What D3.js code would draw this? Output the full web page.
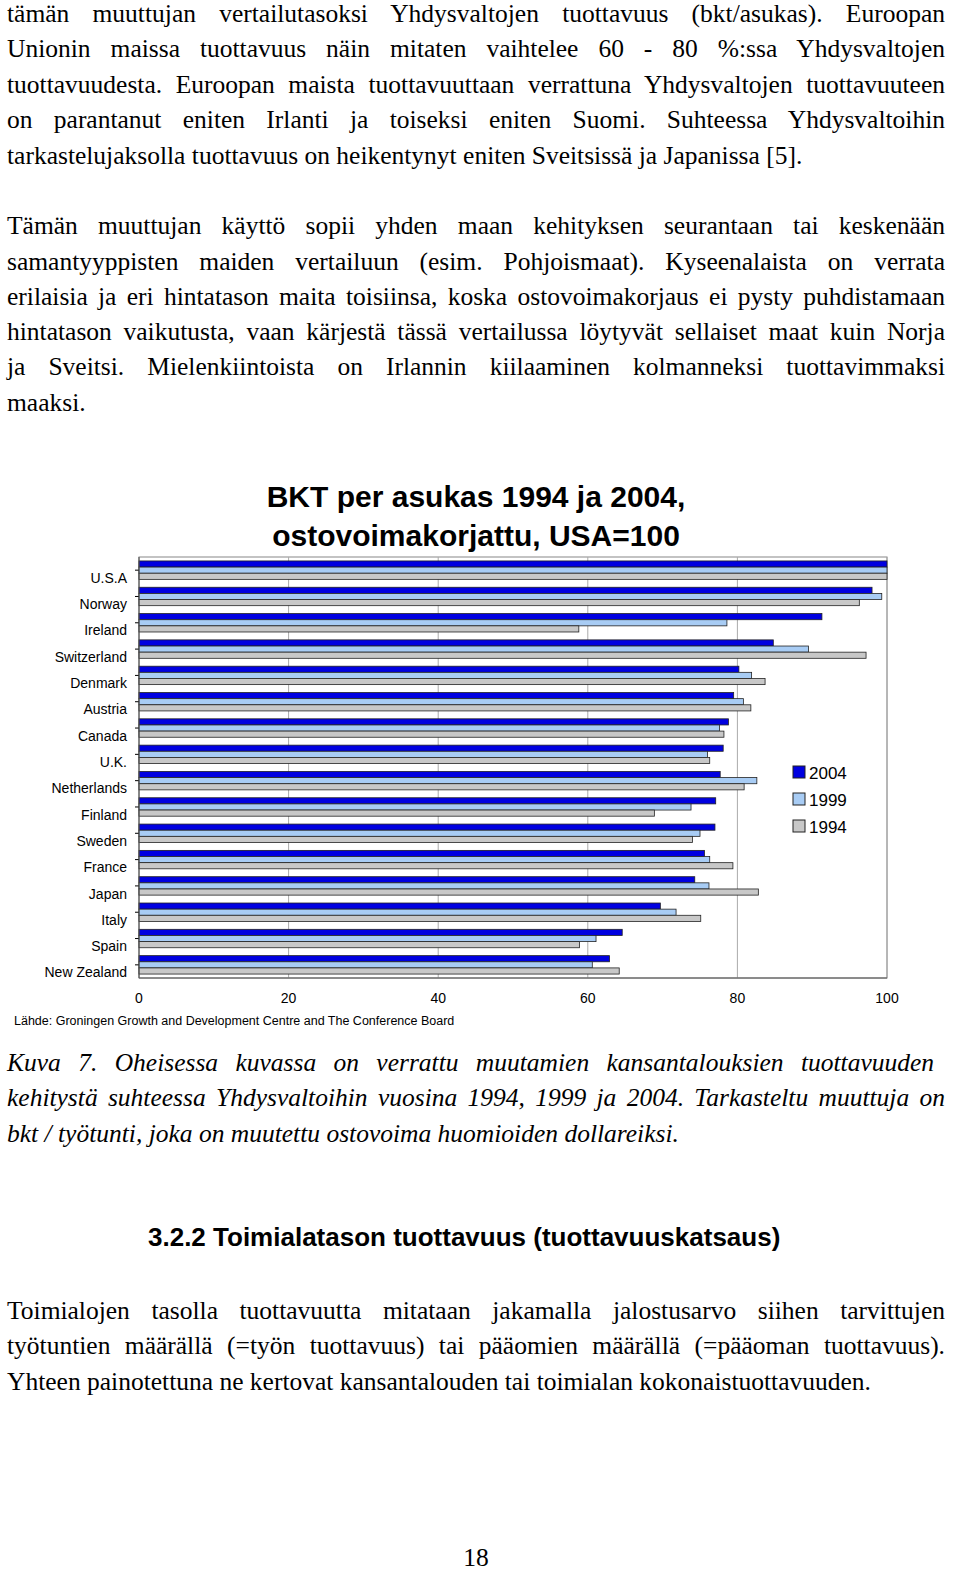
<!DOCTYPE html>
<html><head><meta charset="utf-8">
<script src="https://cdn.jsdelivr.net/npm/d3@7"></script>
<style>body{margin:0;background:#fff}</style></head>
<body><svg id="s" width="960" height="1589"></svg>
<script>
const categories=["U.S.A","Norway","Ireland","Switzerland","Denmark","Austria","Canada","U.K.","Netherlands","Finland","Sweden","France","Japan","Italy","Spain","New Zealand"];
const v2004=[100,98.0,91.3,84.8,80.2,79.5,78.8,78.1,77.7,77.1,77.0,75.6,74.3,69.7,64.6,62.9];
const v1999=[100,99.3,78.6,89.5,81.9,80.8,77.6,76.0,82.6,73.8,75.0,76.3,76.2,71.8,61.1,60.6];
const v1994=[100,96.3,58.8,97.2,83.7,81.8,78.2,76.3,80.9,68.9,74.0,79.4,82.8,75.1,58.9,64.2];
const seriesNames=["2004","1999","1994"];
const xTicks=[0,20,40,60,80,100];
const colors=["#0000e0","#a8ccf4","#c8c8c8"];

const svg=d3.select("#s");
const serif="'Liberation Serif','Times New Roman',serif", sans="'Liberation Sans',Arial,sans-serif";
function line(t,y,opt={}){
  const e=svg.append("text").attr("x",opt.x||7).attr("y",y+9).attr("font-family",opt.ff||serif)
   .attr("font-size",opt.fs||25.5).attr("font-style",opt.it?"italic":null).attr("font-weight",opt.bold?"bold":null).text(t);
  if(opt.j){
    const w=e.node().getComputedTextLength();
    const n=(t.match(/ /g)||[]).length;
    e.attr("word-spacing",Math.max(0,(938-w)/n));
  }
  if(opt.anchor) e.attr("text-anchor",opt.anchor);
}
[["tämän muuttujan vertailutasoksi Yhdysvaltojen tuottavuus (bkt/asukas). Euroopan",13,1],
 ["Unionin maissa tuottavuus näin mitaten vaihtelee 60 - 80 %:ssa Yhdysvaltojen",48,1],
 ["tuottavuudesta. Euroopan maista tuottavuuttaan verrattuna Yhdysvaltojen tuottavuuteen",84,1],
 ["on parantanut eniten Irlanti ja toiseksi eniten Suomi. Suhteessa Yhdysvaltoihin",119,1],
 ["tarkastelujaksolla tuottavuus on heikentynyt eniten Sveitsissä ja Japanissa [5].",155,0],
 ["Tämän muuttujan käyttö sopii yhden maan kehityksen seurantaan tai keskenään",225,1],
 ["samantyyppisten maiden vertailuun (esim. Pohjoismaat). Kyseenalaista on verrata",261,1],
 ["erilaisia ja eri hintatason maita toisiinsa, koska ostovoimakorjaus ei pysty puhdistamaan",296,1],
 ["hintatason vaikutusta, vaan kärjestä tässä vertailussa löytyvät sellaiset maat kuin Norja",331,1],
 ["ja Sveitsi. Mielenkiintoista on Irlannin kiilaaminen kolmanneksi tuottavimmaksi",366,1],
 ["maaksi.",402,0]].forEach(d=>line(d[0],d[1],{j:d[2]}));
[["Kuva 7.  Oheisessa kuvassa on verrattu muutamien kansantalouksien tuottavuuden",1062,1],
 ["kehitystä suhteessa Yhdysvaltoihin vuosina 1994, 1999 ja 2004. Tarkasteltu muuttuja on",1097,1],
 ["bkt / työtunti, joka on muutettu ostovoima huomioiden dollareiksi.",1133,0]].forEach(d=>line(d[0],d[1],{j:d[2],it:1}));
line("3.2.2  Toimialatason tuottavuus (tuottavuuskatsaus)",1237,{x:148,ff:sans,bold:1,fs:26});
[["Toimialojen tasolla tuottavuutta mitataan jakamalla jalostusarvo siihen tarvittujen",1310,1],
 ["työtuntien määrällä (=työn tuottavuus) tai pääomien määrällä (=pääoman tuottavuus).",1345,1],
 ["Yhteen painotettuna ne kertovat kansantalouden tai toimialan kokonaistuottavuuden.",1381,0]].forEach(d=>line(d[0],d[1],{j:d[2]}));
line("18",1557,{x:476,anchor:"middle"});

// chart
const L=139,R=887,T=557,B=978;
const x=d3.scaleLinear().domain([0,100]).range([L,R]);
const y=d3.scaleBand().domain(categories).range([T,B]).paddingInner(0.3).paddingOuter(0.15);
const sub=d3.scaleBand().domain(seriesNames).range([0,y.bandwidth()]);
svg.append("text").attr("x",476).attr("y",507).attr("text-anchor","middle").attr("font-family",sans).attr("font-weight","bold").attr("font-size",30).text("BKT per asukas 1994 ja 2004,");
svg.append("text").attr("x",476).attr("y",546).attr("text-anchor","middle").attr("font-family",sans).attr("font-weight","bold").attr("font-size",30).text("ostovoimakorjattu, USA=100");
svg.append("rect").attr("x",L).attr("y",T).attr("width",R-L).attr("height",B-T).attr("fill","#fff").attr("stroke","#888");
xTicks.forEach(t=>{
  svg.append("line").attr("x1",x(t)).attr("x2",x(t)).attr("y1",T).attr("y2",B).attr("stroke","#aaa");
  svg.append("text").attr("x",x(t)).attr("y",1003).attr("text-anchor","middle").attr("font-family",sans).attr("font-size",14).text(t);
});
const data=[v2004,v1999,v1994];
data.forEach((arr,si)=>{
  svg.append("g").selectAll("rect").data(categories).join("rect")
   .attr("x",L).attr("y",(c)=>y(c)+sub(seriesNames[si])).attr("height",sub.bandwidth())
   .attr("width",(c,i)=>x(arr[i])-L).attr("fill",colors[si]).attr("stroke","#222").attr("stroke-width",0.8);
});
const yAx=svg.append("g").attr("transform",`translate(${L},0)`).call(d3.axisLeft(y).tickSize(4).tickPadding(8));
yAx.select(".domain").remove();
yAx.selectAll("text").attr("font-family",sans).attr("font-size",14).attr("fill","#000");
yAx.selectAll("text").attr("dy","0.9em");
svg.append("line").attr("x1",L).attr("x2",L).attr("y1",T).attr("y2",B).attr("stroke","#555");
svg.append("line").attr("x1",L).attr("x2",R).attr("y1",B).attr("y2",B).attr("stroke","#555");
seriesNames.forEach((n,i)=>{
  svg.append("rect").attr("x",793).attr("y",766+i*27).attr("width",12).attr("height",12).attr("fill",colors[i]).attr("stroke","#222");
  svg.append("text").attr("x",809).attr("y",779+i*27).attr("font-family",sans).attr("font-size",17).text(n);
});
svg.append("text").attr("x",14).attr("y",1025).attr("font-family",sans).attr("font-size",12.5).text("Lähde: Groningen Growth and Development Centre and The Conference Board");
</script></body></html>
